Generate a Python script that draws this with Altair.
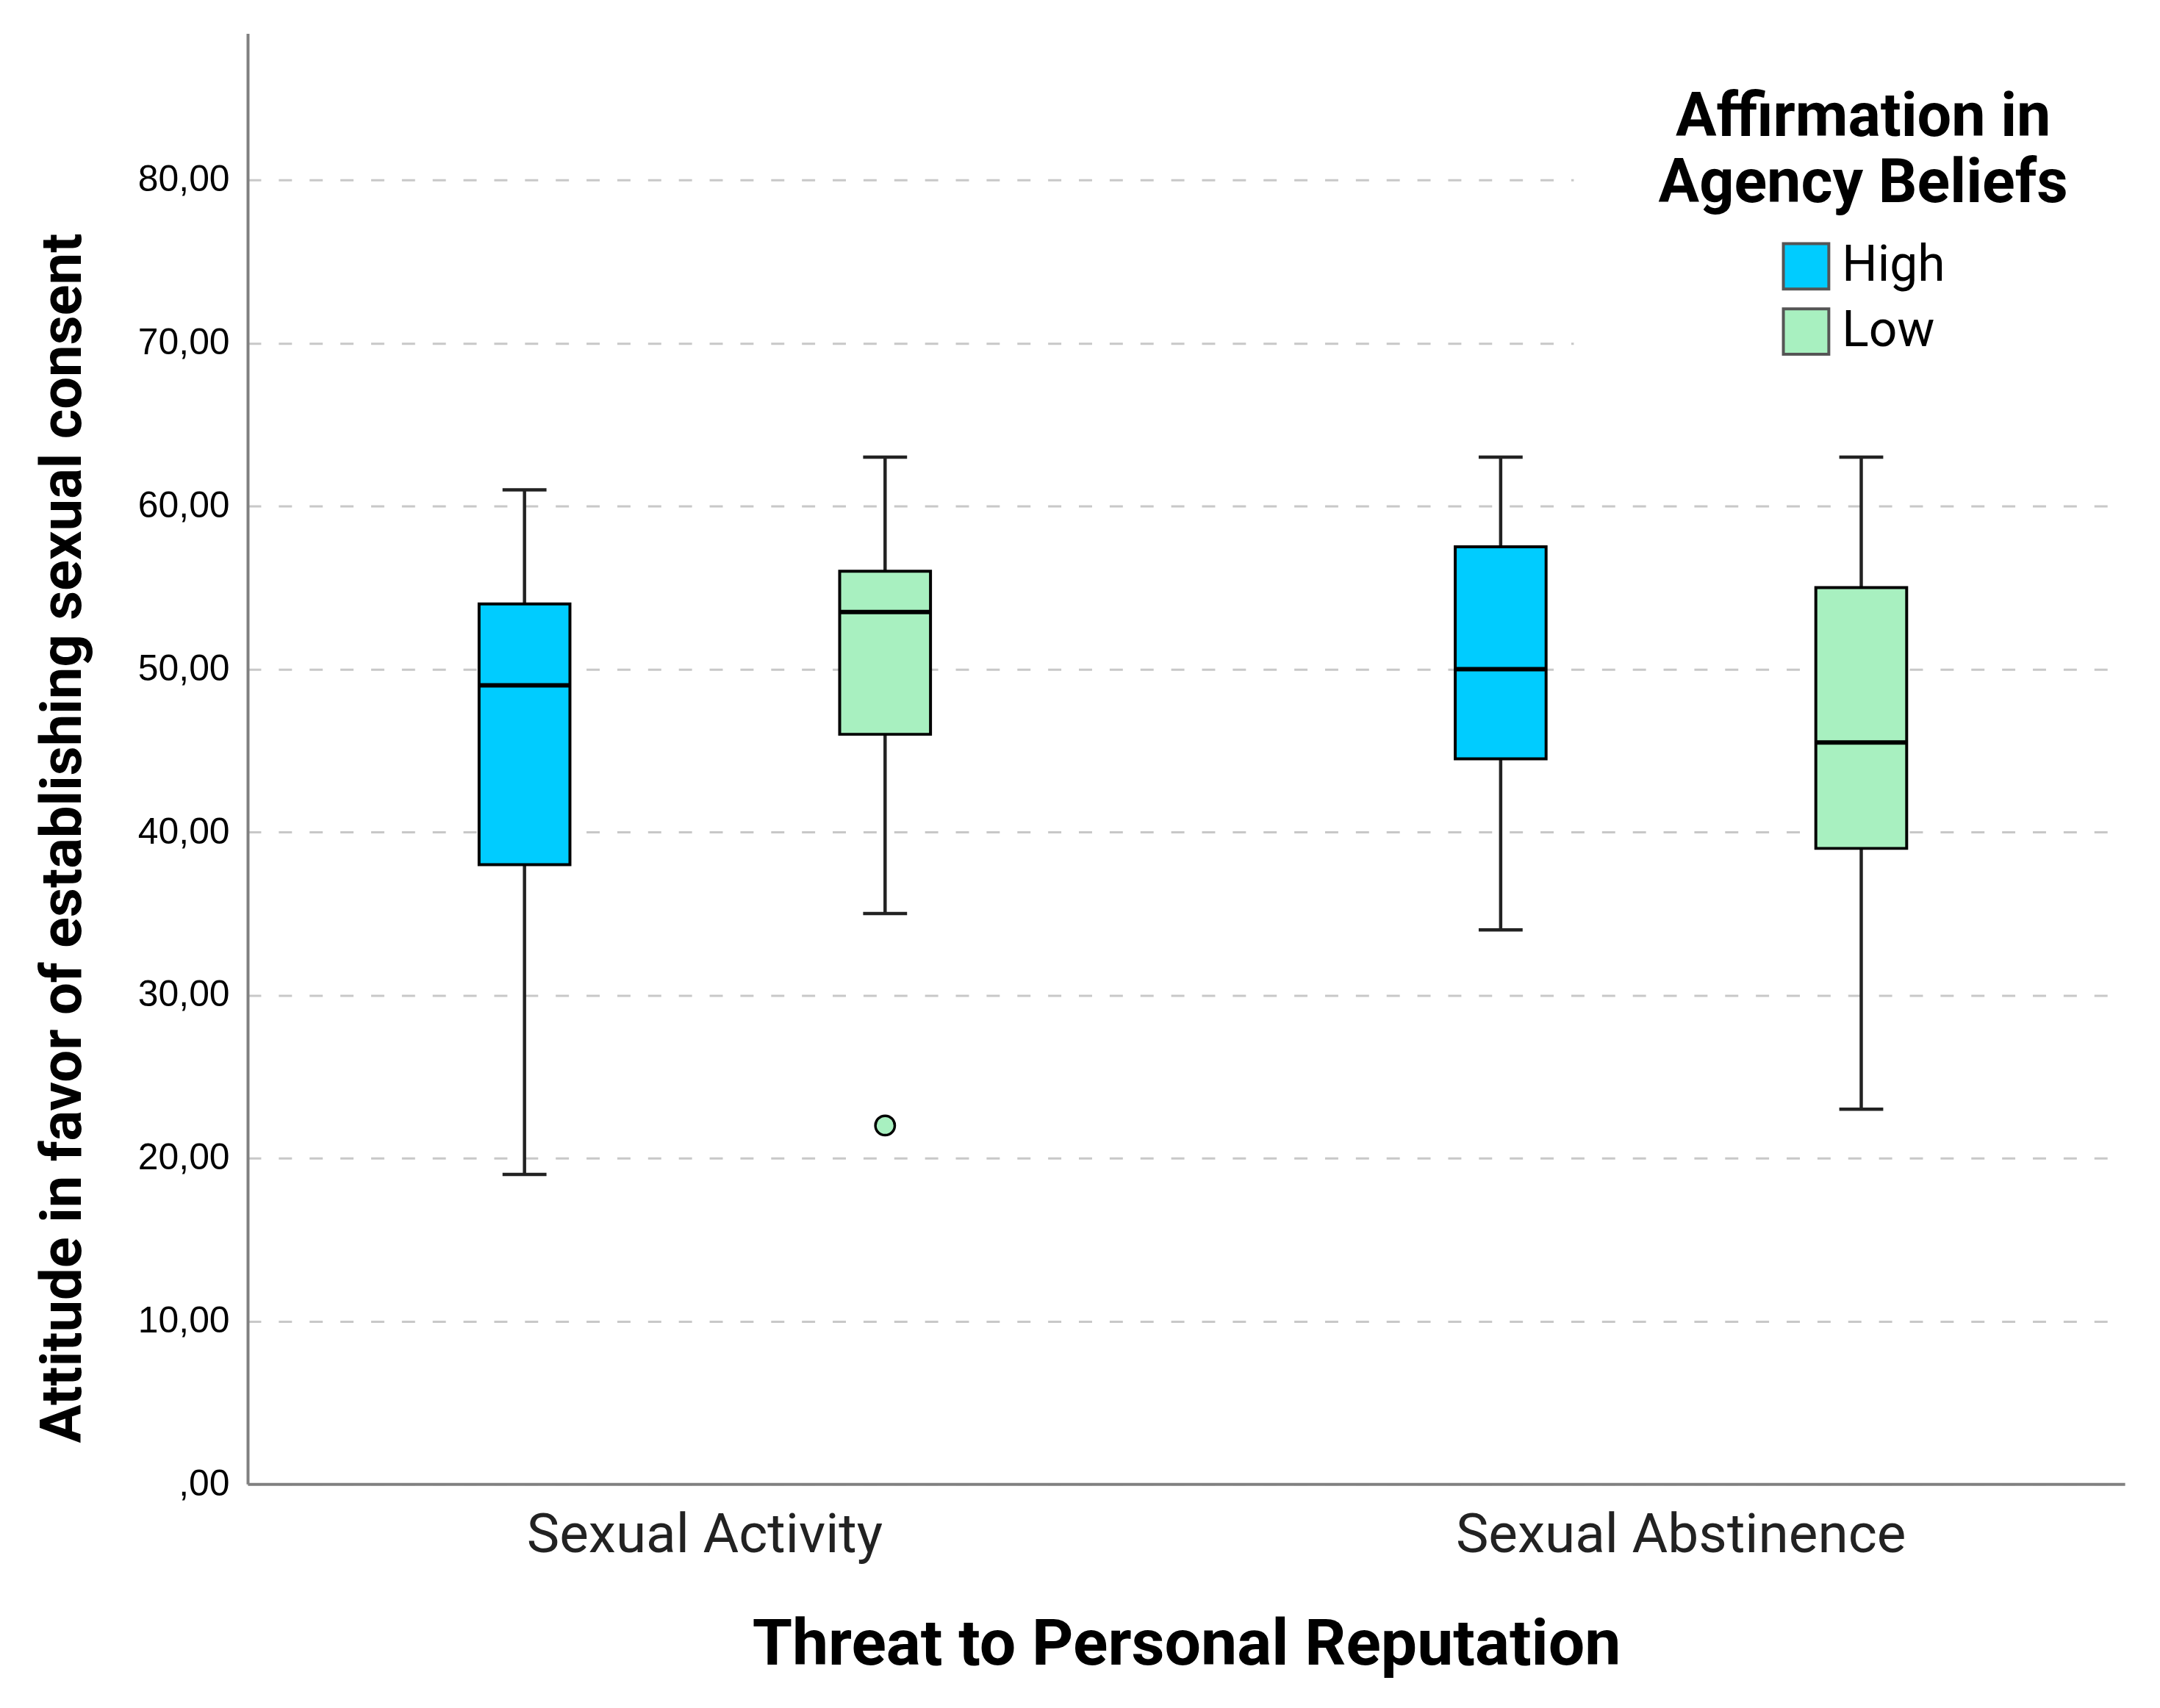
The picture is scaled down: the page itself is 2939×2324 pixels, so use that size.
import altair as alt
import pandas as pd

# ---- data ----
threat_cats = ["Sexual Activity", "Sexual Abstinence"]
group_cats = ["High", "Low"]

threat = ["Sexual Activity", "Sexual Activity", "Sexual Abstinence", "Sexual Abstinence"]
group = ["High", "Low", "High", "Low"]
whisker_low = [19, 35, 34, 23]
q1 = [38, 46, 44.5, 39]
median = [49, 53.5, 50, 45.5]
q3 = [54, 56, 57.5, 55]
whisker_high = [61, 63, 63, 63]

out_threat = ["Sexual Activity"]
out_group = ["Low"]
out_value = [22]

y_ticks = [0, 10, 20, 30, 40, 50, 60, 70, 80]

colors = ["#00CCFF", "#A8F0C0"]

box = pd.DataFrame({
    "threat": threat, "group": group,
    "lo": whisker_low, "q1": q1, "med": median, "q3": q3, "hi": whisker_high,
})
outl = pd.DataFrame({"threat": out_threat, "group": out_group, "value": out_value})

x_enc = alt.X(
    "threat:N",
    sort=threat_cats,
    scale=alt.Scale(domain=threat_cats, paddingInner=0.177, paddingOuter=0.05, align=0.568),
    axis=alt.Axis(
        title="Threat to Personal Reputation",
        titleFont="Roboto", titleFontSize=88, titleFontWeight="bold", titleColor="black",
        titleBaseline="alphabetic", titleY=246,
        labelFont="Roboto", labelFontSize=75, labelColor="#222222", labelPadding=33,
        labelLimit=2000, labelAngle=0, ticks=False, grid=False,
        domainColor="#808080", domainWidth=4,
    ),
)
xo_enc = alt.XOffset(
    "group:N",
    scale=alt.Scale(domain=group_cats, paddingInner=0, paddingOuter=0.114),
)

y_scale = alt.Scale(domain=[0, 89], nice=False, zero=True)
y_axis = alt.Axis(
    title="Attitude in favor of establishing sexual consent",
    titleFont="Roboto", titleFontSize=78, titleFontWeight="bold", titleColor="black",
    titleAngle=270, titleBaseline="alphabetic", titleAlign="center",
    titleX=-228, titleY=1098, titleLimit=3000,
    values=y_ticks,
    labelExpr="datum.value == 0 ? ',00' : replace(format(datum.value, '.2f'), '.', ',')",
    labelFont="Liberation Sans", labelFontSize=50, labelColor="black", labelPadding=25,
    labelBaseline="middle",
    ticks=False, grid=True, gridColor="#c8c8c8", gridWidth=3, gridDash=[18, 24],
    domainColor="#808080", domainWidth=4,
)

base = alt.Chart(box)

whiskers = base.mark_rule(color="#222222", strokeWidth=4.5).encode(
    x=x_enc, xOffset=xo_enc,
    y=alt.Y("lo:Q", scale=y_scale, axis=y_axis),
    y2="hi:Q",
)

caps_lo = base.mark_tick(color="#222222", size=60, thickness=4.5, opacity=1).encode(
    x=x_enc, xOffset=xo_enc, y=alt.Y("lo:Q", scale=y_scale),
)
caps_hi = base.mark_tick(color="#222222", size=60, thickness=4.5, opacity=1).encode(
    x=x_enc, xOffset=xo_enc, y=alt.Y("hi:Q", scale=y_scale),
)

boxes = base.mark_bar(width=124, stroke="black", strokeWidth=4, opacity=1).encode(
    x=x_enc, xOffset=xo_enc,
    y=alt.Y("q1:Q", scale=y_scale),
    y2="q3:Q",
    color=alt.Color(
        "group:N",
        scale=alt.Scale(domain=group_cats, range=colors),
        legend=alt.Legend(
            orient="none", legendX=1810, legendY=-41,
            padding=115, fillColor="white",
            title=["Affirmation in", "Agency Beliefs"],
            titleFont="Roboto", titleFontSize=83, titleFontWeight="bold", titleColor="black",
            titleAnchor="middle", titleAlign="center", titleLineHeight=90,
            titleLimit=3000, titlePadding=37,
            labelFont="Roboto", labelFontSize=68, labelColor="black", labelLimit=2000,
            labelOffset=15,
            symbolType="square", symbolSize=3844, symbolStrokeColor="#555555",
            symbolStrokeWidth=4, symbolOffset=0, symbolOpacity=1,
            rowPadding=11,
        ),
    ),
)

medians = base.mark_tick(color="black", size=124, thickness=6, opacity=1).encode(
    x=x_enc, xOffset=xo_enc, y=alt.Y("med:Q", scale=y_scale),
)

outliers = alt.Chart(outl).mark_point(
    shape="circle", filled=True, fill=colors[1], stroke="black", strokeWidth=3.5,
    size=700, opacity=1,
).encode(
    x=x_enc, xOffset=xo_enc, y=alt.Y("value:Q", scale=y_scale),
)

chart = alt.layer(whiskers, caps_lo, caps_hi, boxes, medians, outliers).properties(
    width=2562, height=1980,
    autosize=alt.AutoSizeParams(type="none"),
    padding={"left": 330, "top": 34, "right": 40, "bottom": 290},
    background="white",
).configure_view(stroke=None)

chart.save("out.html", embed_options={"renderer": "svg", "actions": False})
